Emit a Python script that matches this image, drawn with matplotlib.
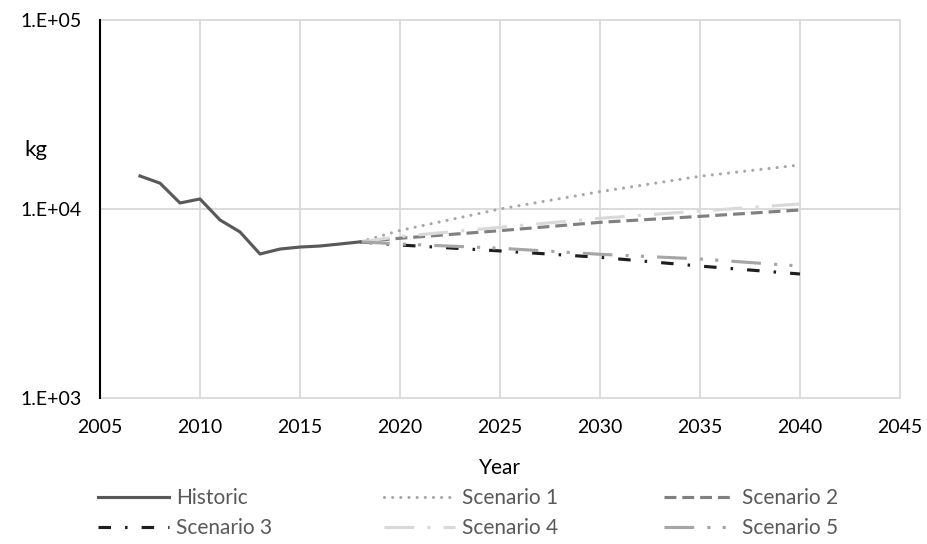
"""Historic and scenario mass (kg) by year, log scale."""

import math
import matplotlib
matplotlib.use("Agg")
from matplotlib import pyplot as plt
from matplotlib.ticker import FixedLocator, FuncFormatter, NullLocator

plt.rcParams["font.family"] = ["Lato", "DejaVu Sans"]

hist_years = [2007, 2008, 2009, 2010, 2011, 2012, 2013, 2014, 2015, 2016, 2017, 2018]
hist_kg = [14950, 13700, 10760, 11300, 8750, 7560, 5780, 6140, 6290, 6370, 6530, 6700]

scen_years = [2018, 2020, 2025, 2030, 2035, 2040]
scen1 = [6700, 7700, 10000, 12350, 14900, 17100]
scen2 = [6700, 7000, 7680, 8500, 9140, 9880]
scen3 = [6700, 6450, 6000, 5550, 4990, 4530]
scen4 = [6700, 7150, 8000, 8930, 9760, 10630]
scen5 = [6700, 6530, 6200, 5760, 5440, 4990]

fig = plt.figure(figsize=(9.28, 5.44), dpi=100)
ax = fig.add_axes([100 / 928, 1 - 398 / 544, 800 / 928, 378 / 544])

lw = 2.25
h0, = ax.plot(hist_years, hist_kg, color="#595959", lw=lw, label="Historic", zorder=5)
h1, = ax.plot(scen_years, scen1, color="#A6A6A6", lw=lw, label="Scenario 1",
              dashes=(0.01, 2.6), dash_capstyle="round")
h2, = ax.plot(scen_years, scen2, color="#808080", lw=lw, label="Scenario 2",
              dashes=(3.8, 1.9))
h3, = ax.plot(scen_years, scen3, color="#1E1E1E", lw=lw, label="Scenario 3",
              dashes=(4, 4.5, 0.8, 4.5))
h4, = ax.plot(scen_years, scen4, color="#D9D9D9", lw=lw, label="Scenario 4",
              dashes=(9.5, 4.2, 1, 4.2))
h5, = ax.plot(scen_years, scen5, color="#A6A6A6", lw=lw, label="Scenario 5",
              dashes=(9.5, 4.2, 1, 3.9, 1, 4.2))

ax.set_yscale("log")
ax.set_xlim(2005, 2045)
ax.set_ylim(1e3, 1e5)
ax.xaxis.set_major_locator(FixedLocator(range(2005, 2046, 5)))
ax.yaxis.set_major_locator(FixedLocator([1e3, 1e4, 1e5]))
ax.yaxis.set_minor_locator(NullLocator())
ax.yaxis.set_major_formatter(FuncFormatter(lambda v, p: "1.E+%02d" % round(math.log10(v))))

for name, s in ax.spines.items():
    s.set_visible(name == "left")
ax.spines["left"].set_color("#000000")
ax.spines["left"].set_linewidth(1.5)
ax.grid(True, color="#D9D9D9", lw=1.3)
for gl in ax.get_xgridlines() + ax.get_ygridlines():
    gl.set_clip_on(False)
ax.set_axisbelow(True)
ax.tick_params(length=0, labelsize=14, labelcolor="#000000")
ax.tick_params(axis="x", pad=15)
ax.tick_params(axis="y", pad=13)

ax.set_xlabel("Year", fontsize=15, labelpad=16)
fig.text(36 / 928, 1 - 150 / 544, "kg", fontsize=16, ha="center", va="center")

# three one-column legends, Excel style
cols = [([h0, h3], 98), ([h1, h4], 384), ([h2, h5], 664)]
for hs, x in cols:
    leg = fig.legend(hs, [h.get_label() for h in hs], loc="upper left",
                     bbox_to_anchor=(x / 928, 1 - 488 / 544), borderpad=0,
                     borderaxespad=0, frameon=False, fontsize=15,
                     handlelength=3.4, handletextpad=0.35,
                     labelcolor="#595959", labelspacing=0.5)

fig.savefig("out.png", dpi=100)
